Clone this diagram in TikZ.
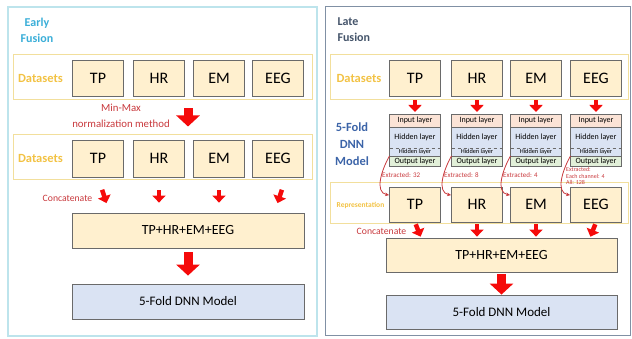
\documentclass[tikz,border=0pt]{standalone}
\usepackage{fontspec}
\setmainfont{Carlito}
\usetikzlibrary{positioning,calc}
\usetikzlibrary{arrows.meta}

\definecolor{boxfill}{HTML}{FFF0CF}
\definecolor{boxline}{HTML}{6A6A6A}
\definecolor{modelfill}{HTML}{DAE3F3}
\definecolor{inputfill}{HTML}{FBE3D6}
\definecolor{outputfill}{HTML}{E2F0D9}
\definecolor{bandline}{HTML}{F2DF9C}
\definecolor{goldtext}{HTML}{F2C244}
\definecolor{arrowred}{HTML}{F50A0A}
\definecolor{textred}{HTML}{C8383C}
\definecolor{earlyblue}{HTML}{3AAED8}
\definecolor{lateblue}{HTML}{44546A}
\definecolor{dnnblue}{HTML}{3C64A8}
\definecolor{earlyline}{HTML}{BDE4EC}
\definecolor{lateline}{HTML}{8090A4}

\tikzstyle{databox} = [rectangle, minimum width=51pt, minimum height=36pt, text centered, fill=boxfill, draw=boxline, line width=0.8pt, font=\fontsize{16}{18}\selectfont]
\tikzstyle{widebox} = [rectangle, minimum width=232pt, minimum height=35pt, text centered, draw=boxline, line width=0.8pt]
\tikzstyle{band} = [rectangle, draw=bandline, line width=1pt, minimum width=298pt]
\tikzstyle{dslabel} = [text=goldtext, font=\bfseries\fontsize{12.5}{14}\selectfont]
\tikzstyle{title} = [align=center, font=\bfseries\fontsize{12}{16}\selectfont]
\tikzstyle{redtext} = [text=textred, align=center]
\tikzstyle{layer} = [rectangle, minimum width=51pt, inner sep=0pt, outer sep=0pt, text centered]
\tikzstyle{stackline} = [draw=boxline, line width=0.7pt]
\tikzstyle{bigarrow} = [draw=arrowred, line width=9pt, -{Triangle[length=11pt,width=23pt]}]
\tikzstyle{smallarrow} = [draw=arrowred, line width=4.5pt, -{Triangle[length=7pt,width=13pt]}]
\tikzstyle{curvearrow} = [draw=textred, line width=0.8pt, -{Stealth[length=4pt,width=3.5pt]}]

\begin{document}
\begin{tikzpicture}[x=1pt,y=1pt]
\useasboundingbox (0,0) rectangle (632,-339);
% two panels
\draw[earlyline, line width=1.5pt] (8,-7) rectangle (317,-336);
\draw[lateline, line width=1pt] (325,-7) rectangle (630,-335);

% early fusion
\node (early) at (37,-30) [title, text=earlyblue] {Early\\Fusion};
\node (band1) at (162.5,-77.5) [band, minimum width=299pt, minimum height=45pt] {};
\node (ds1) at (40.5,-78) [dslabel] {Datasets};
\node (tp1) at (98,-78) [databox] {TP};
\node (hr1) at (159,-78) [databox] {HR};
\node (em1) at (219,-78) [databox] {EM};
\node (eeg1) at (278,-78) [databox] {EEG};
\node (minmax) at (121,-116) [redtext, font=\fontsize{10.8}{16}\selectfont] {Min-Max\\normalization method};
\node (band2) at (162.5,-157.5) [band, minimum width=299pt, minimum height=45pt] {};
\node (ds2) at (40.5,-158) [dslabel] {Datasets};
\node (tp2) at (98,-158.5) [databox, minimum height=37pt] {TP};
\node (hr2) at (159,-158.5) [databox, minimum height=37pt] {HR};
\node (em2) at (219,-158.5) [databox, minimum height=37pt] {EM};
\node (eeg2) at (278,-158.5) [databox, minimum height=37pt] {EEG};
\node (concat1) at (67.5,-198) [redtext, font=\fontsize{9.7}{11}\selectfont] {Concatenate};
\node (comb1) at (188,-230.5) [widebox, fill=boxfill, font=\fontsize{14}{16}\selectfont] {TP+HR+EM+EEG};
\node (model1) at (188,-301.5) [widebox, fill=modelfill, font=\fontsize{13}{15}\selectfont] {5-Fold DNN Model};

\draw[bigarrow, shorten <=8pt, shorten >=8pt] (band1.south -| comb1) -- (band2.north -| comb1);
\draw[smallarrow, shorten <=13pt, shorten >=10pt] (tp2.south) -- ($(comb1.north west)+(38,0)$);
\draw[smallarrow, shorten <=13pt, shorten >=10pt] (hr2.south) -- (hr2.south |- comb1.north);
\draw[smallarrow, shorten <=13pt, shorten >=10pt] (em2.south) -- (em2.south |- comb1.north);
\draw[smallarrow, shorten <=13pt, shorten >=10pt] ($(eeg2.south)+(8,0)$) -- ($(comb1.north east)+(-30,0)$);
\draw[bigarrow, shorten <=4pt, shorten >=8pt] (comb1) -- (model1);

% late fusion
\node (late) at (334,-30) [title, anchor=west, align=left, text=lateblue] {Late\\Fusion};
\node (band3) at (479,-77.5) [band, minimum height=45pt] {};
\node (ds3) at (359,-78) [dslabel] {Datasets};
\node (tp3) at (415,-78) [databox] {TP};
\node (hr3) at (477,-78) [databox] {HR};
\node (em3) at (536,-78) [databox] {EM};
\node (eeg3) at (596,-78) [databox] {EEG};

\node (dnn) at (352,-144) [title, text=dnnblue, font=\bfseries\fontsize{12.5}{17}\selectfont] {5-Fold\\DNN\\Model};

\node (in1) at (415,-120.5) [layer, minimum height=13pt, fill=inputfill, font=\fontsize{8}{9}\selectfont] {Input layer};
\node (hid1) [layer, below=0pt of in1, minimum height=21pt, fill=modelfill, font=\fontsize{8}{9}\selectfont] {Hidden layer};
\node (hsm1) [layer, below=0pt of hid1, minimum height=8pt, fill=modelfill, font=\fontsize{6.3}{7}\selectfont] {Hidden layer};
\node (out1) [layer, below=0pt of hsm1, minimum height=10pt, fill=outputfill, font=\fontsize{8}{9}\selectfont] {Output layer};
\node (in2) at (477,-120.5) [layer, minimum height=13pt, fill=inputfill, font=\fontsize{8}{9}\selectfont] {Input layer};
\node (hid2) [layer, below=0pt of in2, minimum height=21pt, fill=modelfill, font=\fontsize{8}{9}\selectfont] {Hidden layer};
\node (hsm2) [layer, below=0pt of hid2, minimum height=8pt, fill=modelfill, font=\fontsize{6.3}{7}\selectfont] {Hidden layer};
\node (out2) [layer, below=0pt of hsm2, minimum height=10pt, fill=outputfill, font=\fontsize{8}{9}\selectfont] {Output layer};
\node (in3) at (536,-120.5) [layer, minimum height=13pt, fill=inputfill, font=\fontsize{8}{9}\selectfont] {Input layer};
\node (hid3) [layer, below=0pt of in3, minimum height=21pt, fill=modelfill, font=\fontsize{8}{9}\selectfont] {Hidden layer};
\node (hsm3) [layer, below=0pt of hid3, minimum height=8pt, fill=modelfill, font=\fontsize{6.3}{7}\selectfont] {Hidden layer};
\node (out3) [layer, below=0pt of hsm3, minimum height=10pt, fill=outputfill, font=\fontsize{8}{9}\selectfont] {Output layer};
\node (in4) at (596,-120.5) [layer, minimum height=13pt, fill=inputfill, font=\fontsize{8}{9}\selectfont] {Input layer};
\node (hid4) [layer, below=0pt of in4, minimum height=21pt, fill=modelfill, font=\fontsize{8}{9}\selectfont] {Hidden layer};
\node (hsm4) [layer, below=0pt of hid4, minimum height=8pt, fill=modelfill, font=\fontsize{6.3}{7}\selectfont] {Hidden layer};
\node (out4) [layer, below=0pt of hsm4, minimum height=10pt, fill=outputfill, font=\fontsize{8}{9}\selectfont] {Output layer};
\draw[stackline] (in1.north west) rectangle (out1.south east) (in1.south west) -- (in1.south east) (out1.north west) -- (out1.north east);
\draw[stackline, dashed] (hid1.south west) -- (hid1.south east);
\draw[stackline] (in2.north west) rectangle (out2.south east) (in2.south west) -- (in2.south east) (out2.north west) -- (out2.north east);
\draw[stackline, dashed] (hid2.south west) -- (hid2.south east);
\draw[stackline] (in3.north west) rectangle (out3.south east) (in3.south west) -- (in3.south east) (out3.north west) -- (out3.north east);
\draw[stackline, dashed] (hid3.south west) -- (hid3.south east);
\draw[stackline] (in4.north west) rectangle (out4.south east) (in4.south west) -- (in4.south east) (out4.north west) -- (out4.north east);
\draw[stackline, dashed] (hid4.south west) -- (hid4.south east);

\draw[smallarrow, shorten <=4pt, shorten >=2pt] (tp3.south) -- (in1.north);
\draw[smallarrow, shorten <=4pt, shorten >=2pt] (hr3.south) -- (in2.north);
\draw[smallarrow, shorten <=4pt, shorten >=2pt] (em3.south) -- (in3.north);
\draw[smallarrow, shorten <=4pt, shorten >=2pt] (eeg3.south) -- (in4.north);

\node (band4) at (479,-203.5) [band, minimum height=41pt] {};
\node (repr) at (360.5,-205) [dslabel, font=\bfseries\fontsize{7.5}{9}\selectfont] {Representation};
\node (rep1) at (415,-204.5) [databox, minimum height=35pt] {TP};
\node (rep2) at (477,-204.5) [databox, minimum height=35pt] {HR};
\node (rep3) at (536,-204.5) [databox, minimum height=35pt] {EM};
\node (rep4) at (596,-204.5) [databox, minimum height=35pt] {EEG};

\draw[curvearrow] (out1.north west) to[out=240, in=170] (rep1.160);
\draw[curvearrow] (out2.north west) to[out=240, in=170] (rep2.160);
\draw[curvearrow] (out3.north west) to[out=240, in=170] (rep3.160);
\draw[curvearrow] (out4.north west) to[out=240, in=170] (rep4.160);
\node (ex1) at (382,-175) [anchor=west, inner sep=0pt, text=textred, font=\fontsize{7}{8}\selectfont] {Extracted: 32};
\node (ex2) at (444,-175) [anchor=west, inner sep=0pt, text=textred, font=\fontsize{7}{8}\selectfont] {Extracted: 8};
\node (ex3) at (503,-175) [anchor=west, inner sep=0pt, text=textred, font=\fontsize{7}{8}\selectfont] {Extracted: 4};
\node (ex4) at (566,-176) [anchor=west, inner sep=0pt, align=left, text=textred, font=\fontsize{6}{6.5}\selectfont] {Extracted:\\Each channel: 4\\All: 128};

\node (concat2) at (381.5,-231) [redtext, font=\fontsize{9.7}{11}\selectfont] {Concatenate};
\node (comb2) at (501.5,-255) [widebox, minimum width=231pt, minimum height=34pt, fill=boxfill, font=\fontsize{14}{16}\selectfont] {TP+HR+EM+EEG};
\node (model2) at (501.5,-312) [widebox, minimum width=231pt, minimum height=34pt, fill=modelfill, font=\fontsize{13}{15}\selectfont] {5-Fold DNN Model};

\draw[smallarrow, shorten <=2pt, shorten >=1pt] (rep1.south) -- ($(rep1.south |- comb2.north)+(6,0)$);
\draw[smallarrow, shorten <=2pt, shorten >=1pt] (rep2.south) -- (rep2.south |- comb2.north);
\draw[smallarrow, shorten <=2pt, shorten >=1pt] (rep3.south) -- (rep3.south |- comb2.north);
\draw[smallarrow, shorten <=2pt, shorten >=1pt] (rep4.south) -- ($(rep4.south |- comb2.north)+(-6,0)$);
\draw[bigarrow, shorten <=2pt] (comb2) -- (model2);
\end{tikzpicture}
\end{document}
